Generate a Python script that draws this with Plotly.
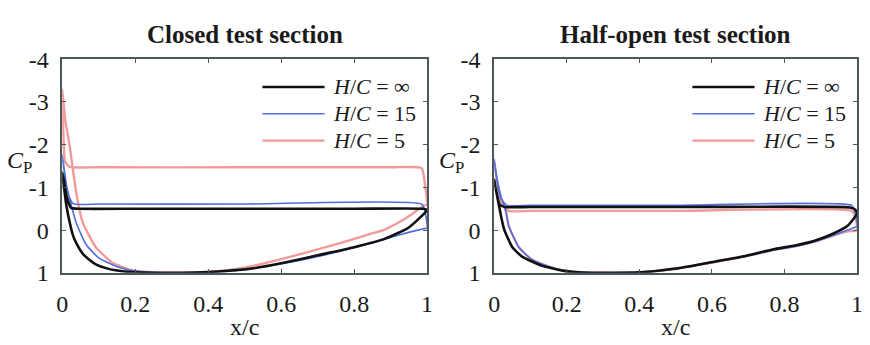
import plotly.graph_objects as go

# ---- Pressure coefficient distributions (x/c, Cp) ----
# Each series: upper surface from trailing edge to leading edge, then lower surface back.

# Closed test section
closed_inf_up_x = [1.0, 0.99, 0.8, 0.5, 0.2, 0.05, 0.024, 0.012, 0.004, 0.0]
closed_inf_up_cp = [-0.47, -0.5, -0.5, -0.5, -0.5, -0.5, -0.52, -0.8, -1.2, -1.35]
closed_inf_lo_x = [0.0, 0.005, 0.011, 0.02, 0.029, 0.04, 0.056, 0.075, 0.092, 0.12, 0.146, 0.2,
                   0.25, 0.3, 0.4, 0.52, 0.61, 0.7, 0.8, 0.885, 0.948, 0.984, 1.0]
closed_inf_lo_cp = [-1.35, -1.0, -0.6, -0.2, 0.11, 0.33, 0.55, 0.7, 0.8, 0.89, 0.94, 0.99,
                    1.0, 1.0, 0.98, 0.9, 0.76, 0.59, 0.40, 0.2, -0.05, -0.32, -0.47]

closed_15_up_x = [1.0, 0.995, 0.985, 0.5, 0.1, 0.03, 0.015, 0.006, 0.0]
closed_15_up_cp = [-0.05, -0.4, -0.61, -0.61, -0.61, -0.62, -0.9, -1.4, -1.76]
closed_15_lo_x = [0.0, 0.008, 0.02, 0.038, 0.065, 0.1, 0.155, 0.2, 0.27, 0.35, 0.45, 0.55,
                  0.65, 0.75, 0.85, 0.92, 0.96, 0.99, 1.0]
closed_15_lo_cp = [-1.76, -1.2, -0.75, -0.18, 0.33, 0.65, 0.87, 0.96, 1.0, 1.0, 0.97, 0.86,
                   0.71, 0.52, 0.3, 0.12, 0.03, -0.03, -0.05]

closed_5_up_x = [1.0, 0.995, 0.985, 0.9, 0.5, 0.1, 0.02, 0.008, 0.003, 0.0]
closed_5_up_cp = [-0.6, -1.0, -1.45, -1.47, -1.47, -1.47, -1.48, -1.6, -2.3, -3.3]
closed_5_lo_x = [0.0, 0.008, 0.02, 0.038, 0.056, 0.075, 0.092, 0.137, 0.19, 0.25, 0.3, 0.4,
                 0.5, 0.6, 0.705, 0.78, 0.84, 0.88, 0.93, 0.966, 0.99, 1.0]
closed_5_lo_cp = [-3.3, -2.6, -1.99, -0.9, -0.18, 0.15, 0.4, 0.76, 0.94, 0.99, 1.0, 0.98,
                  0.88, 0.68, 0.44, 0.26, 0.1, 0.0, -0.22, -0.42, -0.57, -0.6]

# Half-open test section
half_inf_up_x = [1.0, 0.995, 0.98, 0.5, 0.1, 0.03, 0.015, 0.005, 0.0]
half_inf_up_cp = [-0.39, -0.48, -0.53, -0.54, -0.54, -0.54, -0.6, -0.95, -1.18]
half_inf_lo_x = [0.0, 0.007, 0.014, 0.027, 0.05, 0.077, 0.13, 0.195, 0.26, 0.4, 0.5, 0.593,
                 0.684, 0.774, 0.829, 0.883, 0.935, 0.974, 1.0]
half_inf_lo_cp = [-1.18, -0.85, -0.54, -0.03, 0.4, 0.62, 0.83, 0.96, 1.0, 0.99, 0.9, 0.76,
                  0.62, 0.44, 0.36, 0.25, 0.08, -0.1, -0.39]

half_15_up_x = [1.0, 0.995, 0.985, 0.5, 0.1, 0.035, 0.018, 0.006, 0.0]
half_15_up_cp = [-0.1, -0.4, -0.58, -0.58, -0.58, -0.58, -0.75, -1.25, -1.66]
half_15_lo_x = [0.0, 0.008, 0.02, 0.032, 0.04, 0.068, 0.104, 0.168, 0.23, 0.3, 0.4, 0.5,
                0.593, 0.684, 0.774, 0.829, 0.883, 0.935, 0.974, 1.0]
half_15_lo_cp = [-1.66, -1.2, -0.75, -0.46, -0.1, 0.4, 0.69, 0.9, 0.98, 1.0, 0.99, 0.91,
                 0.77, 0.63, 0.46, 0.38, 0.27, 0.12, 0.0, -0.1]

half_5_up_x = [1.0, 0.995, 0.985, 0.5, 0.1, 0.04, 0.02, 0.007, 0.0]
half_5_up_cp = [0.0, -0.3, -0.45, -0.45, -0.45, -0.45, -0.65, -1.2, -1.6]
half_5_lo_x = [0.0, 0.008, 0.02, 0.032, 0.04, 0.068, 0.104, 0.168, 0.23, 0.3, 0.4, 0.5,
               0.593, 0.684, 0.774, 0.829, 0.883, 0.935, 0.974, 1.0]
half_5_lo_cp = [-1.6, -1.15, -0.72, -0.44, -0.1, 0.4, 0.69, 0.9, 0.98, 1.0, 0.99, 0.91,
                0.77, 0.63, 0.46, 0.38, 0.27, 0.13, 0.03, 0.0]

series_names = ["H/C = ∞", "H/C = 15", "H/C = 5"]
series_labels = ["<i>H</i>/<i>C</i> = ∞", "<i>H</i>/<i>C</i> = 15", "<i>H</i>/<i>C</i> = 5"]
panel_titles = ["Closed test section", "Half-open test section"]

x_ticks = [0, 0.2, 0.4, 0.6, 0.8, 1]
x_ticktext = ["0", "0.2", "0.4", "0.6", "0.8", "1"]
y_ticks = [-4, -3, -2, -1, 0, 1]
y_ticktext = ["-4", "-3", "-2", "-1", "0", "1"]

# ---- styling ----
colors = ["#111111", "#4f6fe0", "#f29a9a"]
widths = [2.6, 1.6, 2.4]
serif = "Liberation Serif"
axis_color = "#4d5858"

panels = [
    [(closed_inf_up_x, closed_inf_up_cp, closed_inf_lo_x, closed_inf_lo_cp),
     (closed_15_up_x, closed_15_up_cp, closed_15_lo_x, closed_15_lo_cp),
     (closed_5_up_x, closed_5_up_cp, closed_5_lo_x, closed_5_lo_cp)],
    [(half_inf_up_x, half_inf_up_cp, half_inf_lo_x, half_inf_lo_cp),
     (half_15_up_x, half_15_up_cp, half_15_lo_x, half_15_lo_cp),
     (half_5_up_x, half_5_up_cp, half_5_lo_x, half_5_lo_cp)],
]

W, H = 870, 345
x_domains = [[57 / W, 427 / W], [495 / W, 863 / W]]
y_domain = [1 - 281 / H, 1 - 50 / H]

fig = go.Figure()

# draw order: red, blue, black on top
for p, panel in enumerate(panels):
    xa = "x" if p == 0 else "x2"
    ya = "y" if p == 0 else "y2"
    for s in [2, 1, 0]:
        ux, ucp, lx, lcp = panel[s]
        fig.add_trace(go.Scatter(
            x=list(ux) + list(lx)[1:], y=list(ucp) + list(lcp)[1:],
            mode="lines", name=series_names[s], showlegend=False,
            line=dict(color=colors[s], width=widths[s], shape="spline", smoothing=0.5),
            xaxis=xa, yaxis=ya, cliponaxis=True,
        ))

axis_common = dict(
    showline=True, linecolor=axis_color, linewidth=1.5, mirror="allticks",
    ticks="inside", ticklen=4, tickcolor=axis_color, tickwidth=1,
    showgrid=False, zeroline=False,
    tickfont=dict(family=serif, size=24, color="#1a1a1a"),
)

for p in range(2):
    sfx = "" if p == 0 else "2"
    fig.layout["xaxis" + sfx] = dict(
        axis_common, domain=x_domains[p], range=[0, 1],
        tickvals=x_ticks, ticktext=x_ticktext, ticklabelstandoff=9,
        anchor="y" + sfx,
        title=dict(text="x/c", font=dict(family=serif, size=24, color="#1a1a1a"), standoff=2),
    )
    fig.layout["yaxis" + sfx] = dict(
        axis_common, domain=y_domain, range=[1, -4],
        tickvals=y_ticks, ticktext=y_ticktext, ticklabelstandoff=7,
        anchor="x" + sfx,
    )

annotations = []
shapes = []
for p in range(2):
    sfx = "" if p == 0 else "2"
    xd = x_domains[p]
    cx = (xd[0] + xd[1]) / 2
    dom_px = (xd[1] - xd[0]) * W
    annotations.append(dict(
        text="<b>" + panel_titles[p] + "</b>", xref="paper", yref="paper",
        x=cx, y=1 - 23 / H, xanchor="center", yanchor="middle", showarrow=False,
        font=dict(family=serif, size=25, color="#1a1a1a"),
    ))
    # Cp label to the left of the -2 tick
    annotations.append(dict(
        text="<i>C</i><sub>P</sub>", xref="x" + sfx + " domain", yref="paper",
        x=-29 / dom_px, y=1 - 161 / H, xanchor="right", yanchor="middle", showarrow=False,
        font=dict(family=serif, size=24, color="#1a1a1a"),
    ))
    # legend: line samples and labels
    right_px = xd[1] * W
    for s in range(3):
        ypx = 80 + s * 29
        shapes.append(dict(
            type="line", xref="paper", yref="paper",
            x0=(right_px - 167) / W, x1=(right_px - 104) / W,
            y0=1 - ypx / H, y1=1 - ypx / H,
            line=dict(color=colors[s], width=widths[s]),
        ))
        annotations.append(dict(
            text=series_labels[s], xref="paper", yref="paper",
            x=(right_px - 97) / W, y=1 - ypx / H, xanchor="left", yanchor="middle",
            showarrow=False, font=dict(family=serif, size=22, color="#1a1a1a"),
        ))

fig.update_layout(
    width=W, height=H, margin=dict(l=0, r=0, t=0, b=0),
    paper_bgcolor="white", plot_bgcolor="white",
    showlegend=False, annotations=annotations, shapes=shapes,
)

fig.write_html("out.html")
